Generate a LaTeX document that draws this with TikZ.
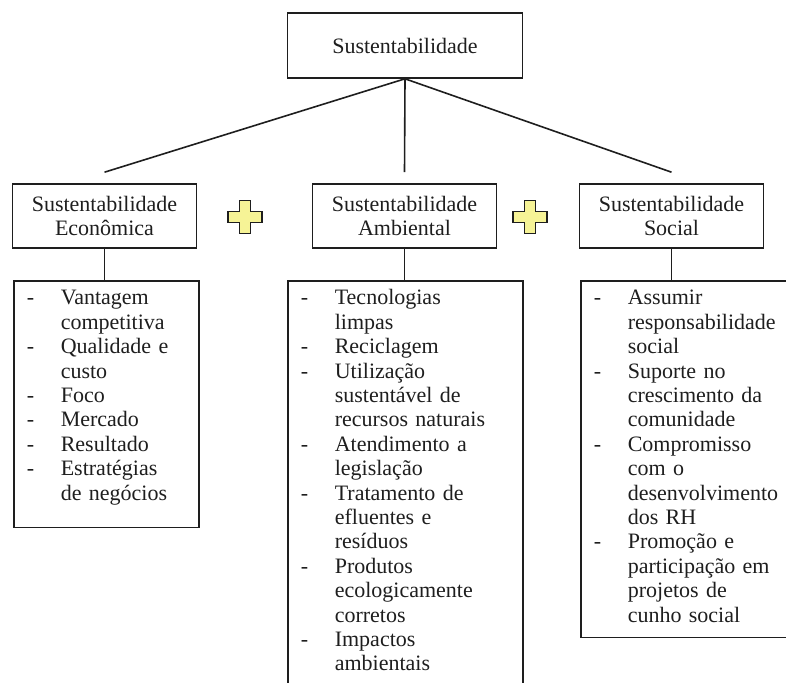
\documentclass[tikz,border=0pt]{standalone}
\usepackage{fontspec}
\setmainfont{Liberation Serif}
\usetikzlibrary{positioning}
\definecolor{plusyellow}{RGB}{246,243,150}
\definecolor{inkgray}{RGB}{30,30,30}

\begin{document}
\begin{tikzpicture}[
    x=1pt, y=-1pt,
    every node/.style={text=inkgray, font=\fontsize{22}{24.4}\selectfont},
    % Box styles
    topbox/.style={
        draw=inkgray,
        line width=1.6pt,
        minimum width=235pt,
        minimum height=65pt
    },
    pillar/.style={
        draw=inkgray,
        line width=1.6pt,
        minimum width=184pt,
        minimum height=64pt,
        align=center
    },
    itembox/.style={
        draw=inkgray,
        line width=1.6pt,
        inner xsep=0pt,
        inner ysep=7pt,
        anchor=north west
    },
    % Connector style
    link/.style={draw=inkgray, line width=1.6pt},
    % The yellow plus signs between the pillars
    plusmark/.style={draw=inkgray, line width=1.6pt, fill=plusyellow},
    plussign/.pic={
        \draw[plusmark] (-5.5,-16.5) -- ++(11,0) -- ++(0,11) -- ++(11.5,0)
            -- ++(0,11) -- ++(-11.5,0) -- ++(0,11) -- ++(-11,0) -- ++(0,-11)
            -- ++(-11.5,0) -- ++(0,-11) -- ++(11.5,0) -- cycle;
    }
    ]

    \useasboundingbox (0,0) rectangle (786,682);
    \clip (0,0) rectangle (786,682);

    % Top
    \node[topbox] (sust) at (405,45.5) {Sustentabilidade};

    % The three pillars
    \node[pillar] (econ) at (104.5,216) {Sustentabilidade\\Econômica};
    \node[pillar] (amb) at (404.5,216) {Sustentabilidade\\Ambiental};
    \node[pillar] (soc) at (671.5,216) {Sustentabilidade\\Social};

    \pic at (245,217) {plussign};
    \pic at (530,217) {plussign};

    % Lists under each pillar
    \node[itembox, text width=185pt] (econlist) at (13,280) {%
        \begin{tabular}{@{\hspace{13pt}}p{34pt}@{}l@{}}
        - & Vantagem\\
          & competitiva\\
        - & Qualidade e\\
          & custo\\
        - & Foco\\
        - & Mercado\\
        - & Resultado\\
        - & Estratégias\\
          & de negócios\\[13pt]
        \end{tabular}};

    \node[itembox, text width=235pt] (amblist) at (287,280) {%
        \begin{tabular}{@{\hspace{13pt}}p{34pt}@{}l@{}}
        - & Tecnologias\\
          & limpas\\
        - & Reciclagem\\
        - & Utilização\\
          & sustentável de\\
          & recursos naturais\\
        - & Atendimento a\\
          & legislação\\
        - & Tratamento de\\
          & efluentes e\\
          & resíduos\\
        - & Produtos\\
          & ecologicamente\\
          & corretos\\
        - & Impactos\\
          & ambientais\\[30pt]
        \end{tabular}};

    \node[itembox, text width=220pt] (soclist) at (580,280) {%
        \begin{tabular}{@{\hspace{13pt}}p{34pt}@{}l@{}}
        - & Assumir\\
          & responsabilidade\\
          & social\\
        - & Suporte no\\
          & crescimento da\\
          & comunidade\\
        - & Compromisso\\
          & com o\\
          & desenvolvimento\\
          & dos RH\\
        - & Promoção e\\
          & participação em\\
          & projetos de\\
          & cunho social\\[1pt]
        \end{tabular}};

    % Lines from the top box stop short of the pillars
    \coordinate[above=11pt of econ.north] (econ-in);
    \coordinate[above=11pt of amb.north] (amb-in);
    \coordinate[above=11pt of soc.north] (soc-in);
    \draw[link] (sust.south) -- (econ-in);
    \draw[link] (sust.south) -- (amb-in);
    \draw[link] (sust.south) -- (soc-in);

    % Pillars down to their lists
    \draw[link] (econ.south) -- (econ.south |- econlist.north);
    \draw[link] (amb.south) -- (amb.south |- amblist.north);
    \draw[link] (soc.south) -- (soc.south |- soclist.north);

\end{tikzpicture}
\end{document}
